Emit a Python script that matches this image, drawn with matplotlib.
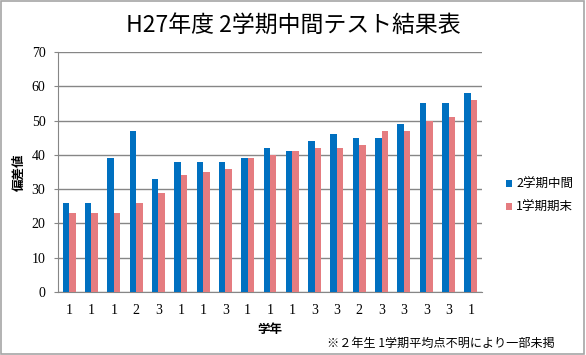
import numpy as np
import matplotlib
matplotlib.use("Agg")
import matplotlib.pyplot as plt
from matplotlib.patches import Rectangle

plt.rcParams['font.family'] = ['Noto Sans CJK JP', 'DejaVu Sans']

# data
grades = ['1', '1', '1', '2', '3', '1', '1', '3', '1', '1',
          '1', '3', '3', '2', '3', '3', '3', '3', '1']
mid_2nd = [26, 26, 39, 47, 33, 38, 38, 38, 39, 42,
           41, 44, 46, 45, 45, 49, 55, 55, 58]
final_1st = [23, 23, 23, 26, 29, 34, 35, 36, 39, 40,
             41, 42, 42, 43, 47, 47, 50, 51, 56]

title = 'H27年度 2学期中間テスト結果表'
series_names = ['2学期中間', '1学期期末']
note = '※２年生 1学期平均点不明により一部未掲'

blue = '#0070C0'
pink = '#E57C80'
grid_c = '#868686'

fig = plt.figure(figsize=(5.86, 3.55), dpi=100)
fig.patch.set_facecolor('white')
# outer frame like the Excel chart area
fig.patches.append(Rectangle((0.002, 0.003), 0.995, 0.994, transform=fig.transFigure,
                             fill=False, edgecolor='#A6A6A6', linewidth=1.2))

ax = fig.add_axes([58 / 586, 1 - 292 / 355, (482 - 58) / 586, (292 - 52) / 355])

x = np.arange(len(grades))
w = 0.29
ax.bar(x - w / 2, mid_2nd, width=w, color=blue, label=series_names[0], zorder=3)
ax.bar(x + w / 2, final_1st, width=w, color=pink, label=series_names[1], zorder=3)

ax.set_xlim(-0.5, len(grades) - 0.5)
ax.set_ylim(0, 70)
ax.set_yticks(range(0, 71, 10))
ax.yaxis.grid(True, color=grid_c, linewidth=1, zorder=0)
ax.set_axisbelow(True)

for s in ['top', 'right']:
    ax.spines[s].set_visible(False)
ax.spines['left'].set_color(grid_c)
ax.spines['bottom'].set_color(grid_c)

ax.set_xticks(x)
ax.set_xticklabels(grades)
ax.tick_params(axis='x', length=0, pad=9, labelsize=10, labelfontfamily='Liberation Serif')
ax.tick_params(axis='y', length=3, color=grid_c, labelsize=10, pad=6,
               labelfontfamily='Liberation Serif')

ax.set_xlabel('学年', fontsize=9, fontweight='bold', labelpad=4)
ax.set_ylabel('偏差値', fontsize=9, fontweight='bold', labelpad=4)

fig.text(0.5, 1 - 25 / 355, title, ha='center', va='center', fontsize=16.5,
         family=['Noto Sans CJK JP', 'DejaVu Sans'])

ax.legend(loc='center left', bbox_to_anchor=(1.045, 0.40), frameon=False,
          fontsize=9, handlelength=0.5, handleheight=0.5, handletextpad=0.3,
          labelspacing=0.75, borderaxespad=0)

fig.text(555 / 586, 1 - 343 / 355, note, ha='right', va='center', fontsize=8.7)

fig.savefig('out.png', dpi=100)
